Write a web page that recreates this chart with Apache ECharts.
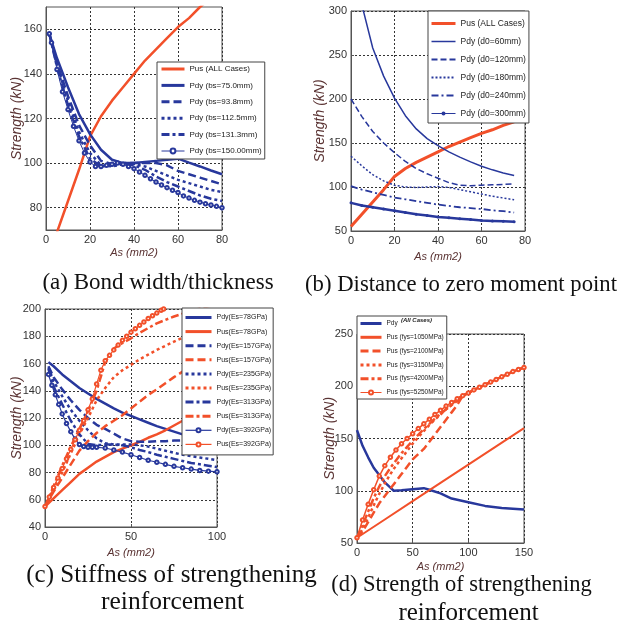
<!DOCTYPE html>
<html>
<head>
<meta charset="utf-8">
<script src="https://cdn.jsdelivr.net/npm/echarts@6/dist/echarts.min.js"></script>
<style>
html,body{margin:0;padding:0;background:#fff;}
#chart{width:632px;height:625px;}
</style>
</head>
<body>
<div id="chart"></div>
<script>
// Ultimate strength Pus, common to panels (a) and (b)
const pusAllX = [0,5,10,15,20,25,30,35,40,45,50,55,60,65,70,75];
const pusAllY = [55,69,83,97,112,121,128,134,140,146,151,156,161,165,170,174];

// (a) Bond width/thickness: debonding strength Pdy
const aPdyX   = [1.5,5,10,15,20,25,30,35,40,45,50,55,60,65,70,75,80];
const aPdy75  = [158,147,134,122,113,106,101.5,100,100,100.5,101,101.5,102,100.2,98.5,96.7,95];
const aPdy93  = [158,145,130,117,108,101,99.5,100,100,100,100,99,96.5,95,93.5,92,90.5];
const aPdy112 = [158,144,128,114,104.5,99,98.5,99.5,99.5,98.5,96.5,94.5,92.5,91,89.5,88,87];
const aPdy131 = [158,143,126,112,102,98.5,99,99.5,99,97,94,91.5,89.5,87.5,85.5,84,83];
const aPdy150X = [1.5,2.5,5,7.5,10,12.5,15,17.5,20,22.5,25,27.5,30,32.5,35,37.5,40,42.5,45,47.5,50,52.5,55,57.5,60,62.5,65,67.5,70,72.5,75,77.5,80];
const aPdy150  = [158,154,142,132,124,116.5,110,104.5,100.5,98.5,98.5,99,99.5,100,99.5,98.5,97.5,96,94.5,93,91.5,90.2,89,87.8,86.8,85.3,84.3,83.3,82.5,81.8,81.2,80.6,80];
const aYTicks = [80,100,120,140,160];

// (b) Distance to zero moment point
const bPdy60X = [5,10,15,20,25,30,35,40,45,50,55,60,65,70,75];
const bPdy60  = [307,258,226,201,181,166,155,147,140,134,128.5,123.5,119.5,116,113];
const bPdyX   = [0,5,10,15,20,25,30,35,40,45,50,55,60,65,70,75];
const bPdy120 = [200,180,163,150,139,129,121,115,110,105,102,101.5,102,102.5,103,103.5];
const bPdy180 = [135,124,114,107,102,100,99.5,100,100.5,99.5,97,94.5,92,89.5,87.5,85.5];
const bPdy240 = [101,97,94,91,88,86,84,82,80,78.5,77,76,75,73.5,72.5,71];
const bPdy300 = [82,79,77,75,73,71,69,67.5,66,65,64,63,62,61.5,61,60.5];

// (c) Stiffness of strengthening reinforcement
const cPdyX   = [2,5,10,15,20,25,30,35,40,45,50,55,60,65,70,75,80,85,90,95,100];
const cPdy78  = [161,158,152,147,142,138,134,130.5,127,124,121.5,119,116.5,114,112,110,108,106,104,103.5,104.5];
const cPdy157 = [158,150,141,133,126,120,115,112,108.5,105,103,102.5,102.5,103,103,103.5,103.5,103,102,101,99.5];
const cPdy235 = [157,147,136,126,118,111,105,101.5,100.5,100.5,100.5,100,99,97.5,96,94.5,93,92,91,90,89];
const cPdy313 = [156,143,130,118,108,101,100,100.5,100.5,100,98.5,96.5,95,93,91.5,90,88.5,87,86,85,84];
const cPdy392X = [2,4,6,8,10,12.5,15,17.5,20,22.5,25,27.5,30,35,40,45,50,55,60,65,70,75,80,85,90,95,100];
const cPdy392  = [152,144,137,130,123,116,110,104.5,100.5,99,98.5,98.5,98.5,98,96.5,95,93,91,89,87.5,86,84.5,83.5,82.5,81.5,81,80.5];
const cPusX   = [0,5,10,15,20,25,30,35,40,45,50,55,60,65,70,75,80,85,90,95,100];
const cPus78  = [55,61,67,73,79,83.5,88,91.5,95,97.5,100,102.5,105.5,108,111,114.5,118,121,124,127,130];
const cPus157 = [55,66,76,86,96,103,109,114,118,122,127,132,137,141,145.5,150,154,158,161.5,165,168];
const cPus235 = [55,68,80,94,108,120,133,142,150,155,159,163,166.5,170,173,176,179,182,185,187.5,190];
const cPus313 = [55,70,85,99,112,125,140,161,171,175,178.5,182.5,186,189.5,192,194.5,196.5,198.5,200.5,202,203.5];
const cPus392X = [0,2.5,5,7.5,10,12.5,15,17.5,20,22.5,25,27.5,30,32.5,35,37.5,40,42.5,45,47.5,50,52.5,55,57.5,60,62.5,65,67.5,69];
const cPus392  = [55,62,69,76,83,90,97,104,111,118,126,134,145,155,162,166,170,173.5,177,180,183,185.5,188,190.5,193,195,197,199,200];

// (d) Strength of strengthening reinforcement
const dPdyX = [0,5,10,15,20,25,30,33,40,50,60,65,75,85,100,115,130,150];
const dPdy  = [158,143,132,122,115,108,103,100,100.5,101.5,102.5,101,97.5,92.5,89,85.5,83.5,82];
const dPus1050X = [0,25,50,75,100,125,150];
const dPus1050  = [55,72.5,90,107.5,125,142.5,160];
const dPusX    = [0,5,10,15,20,25,30,35,40,45,50,55,60,65,70,75,80,85,90,95,100,105,110,115,120,125,130,135,140,145,150];
const dPus2100 = [55,61,70,79,88,95,102,109,116,123,130,135,140,147,154,161,168,175,182,191,193.5,196.5,199,201.5,204,206.5,209,211.5,214,216,218];
const dPus3150 = [55,63,74,86,97,107,116,124,131,138,145,151,157,163,168,173,178,182,188,191,193.5,196.5,199,201.5,204,206.5,209,211.5,214,216,218];
const dPus4200 = [55,67,80,93,104,114,122,129,136,142,148,153.5,159,164,169,173.5,178,182,186,191,193.5,196.5,199,201.5,204,206.5,209,211.5,214,216,218];
const dPus5250 = [55,72,87,101,114,124,132,139,145,150,154.5,159.5,164,168.5,173,177,181,184.5,188,191,193.5,196.5,199,201.5,204,206.5,209,211.5,214,216,218];

const BLUE = '#28389c';
const RED = '#f2502a';
const SANS = "'Liberation Sans', Arial, sans-serif";
const SERIF = "'Liberation Serif', 'Times New Roman', serif";
const DASH = [8, 4], DOT = [3, 3], DASHDOT = [8, 3, 3, 3];

function pairs(xs, ys) { return xs.map((x, i) => [x, ys[i]]); }

// line width used for each entry's legend sample
const legendWidth = {};

function line(name, gi, xs, ys, color, width, dash, marker, keyWidth) {
  const s = {
    name, type: 'line', xAxisIndex: gi, yAxisIndex: gi,
    data: pairs(xs, ys),
    lineStyle: { color, width, type: dash || 'solid' },
    itemStyle: { color },
    symbol: 'none', clip: true, silent: true
  };
  if (marker) {
    s.symbol = marker.symbol;
    s.symbolSize = marker.size;
    s.showSymbol = true;
    s.itemStyle = { color, borderWidth: 1 };
  }
  legendWidth[name] = { width: keyWidth || width, marker: !!marker };
  return s;
}

const grids = [
  { left: 46,  top: 7,   width: 176, height: 223 },
  { left: 351, top: 11,  width: 174, height: 220 },
  { left: 45,  top: 309, width: 172, height: 218 },
  { left: 357, top: 334, width: 167, height: 209 }
].map(g => Object.assign({ show: true, borderColor: '#555', borderWidth: 1, backgroundColor: '#fff' }, g));

const gridLine = { show: true, lineStyle: { type: [2, 2], color: '#333', width: 1 } };
const axisLineSty = { show: true, onZero: false, lineStyle: { color: '#555' } };
const tickSty = { show: true, inside: true, length: 3, lineStyle: { color: '#555' } };

function xAxis(gi, max, interval, gap) {
  return {
    type: 'value', gridIndex: gi, min: 0, max, interval,
    name: 'As (mm2)', nameLocation: 'middle', nameGap: gap,
    nameTextStyle: { fontSize: 11, fontStyle: 'italic', color: '#5b3434', fontFamily: SANS },
    axisLine: axisLineSty, axisTick: tickSty, splitLine: gridLine,
    axisLabel: { margin: 4, fontSize: 11, color: '#333', fontFamily: SANS }
  };
}
function yAxis(gi, min, max, interval, gap, custom) {
  const ax = {
    type: 'value', gridIndex: gi, min, max,
    name: 'Strength (kN)', nameLocation: 'middle', nameGap: gap, nameRotate: 90,
    nameMoveOverlap: false,
    nameTextStyle: { fontSize: 14, fontStyle: 'italic', color: '#5b3434', fontFamily: SANS },
    axisLine: axisLineSty, axisTick: Object.assign({}, tickSty), splitLine: gridLine,
    axisLabel: { margin: 4, fontSize: 11, color: '#333', fontFamily: SANS }
  };
  if (custom) {
    ax.axisTick.customValues = custom;
    ax.axisLabel.customValues = custom;
  } else {
    ax.interval = interval;
  }
  return ax;
}

function legend(left, top, names, o) {
  return {
    orient: 'vertical', left, top, selectedMode: false,
    itemWidth: o.iw, itemHeight: o.ih, itemGap: o.gap, padding: o.pad,
    backgroundColor: '#fff', borderColor: '#444', borderWidth: 1, borderRadius: 0,
    textStyle: { fontSize: o.fs, fontFamily: SANS, color: '#222' },
    data: names.map(n => {
      const k = legendWidth[n];
      const item = { name: n, lineStyle: { width: k.width } };
      if (!k.marker) item.itemStyle = { opacity: 0 };
      return item;
    })
  };
}

const series = [
  // (a)
  line('Pus (ALL Cases)', 0, pusAllX, pusAllY, RED, 2.5, null, null, 3),
  line('Pdy (bs=75.0mm)', 0, aPdyX, aPdy75, BLUE, 2.5, null, null, 3),
  line('Pdy (bs=93.8mm)', 0, aPdyX, aPdy93, BLUE, 2.5, DASH, null, 3),
  line('Pdy (bs=112.5mm)', 0, aPdyX, aPdy112, BLUE, 2.5, DOT, null, 3),
  line('Pdy (bs=131.3mm)', 0, aPdyX, aPdy131, BLUE, 2.5, DASHDOT, null, 3),
  line('Pdy (bs=150.00mm)', 0, aPdy150X, aPdy150, BLUE, 1, null, { symbol: 'emptyCircle', size: 3.5 }),
  // (b)
  line('Pus (ALL Cases)', 1, pusAllX, pusAllY, RED, 3, null, null, 3),
  line('Pdy (d0=60mm)', 1, bPdy60X, bPdy60, BLUE, 1.5),
  line('Pdy (d0=120mm)', 1, bPdyX, bPdy120, BLUE, 1.5, [6, 3], null, 2),
  line('Pdy (d0=180mm)', 1, bPdyX, bPdy180, BLUE, 1.5, [2, 2], null, 2),
  line('Pdy (d0=240mm)', 1, bPdyX, bPdy240, BLUE, 1.8, [7, 3, 2, 3], null, 2),
  line('Pdy (d0=300mm)', 1, bPdyX, bPdy300, BLUE, 2.5, null, { symbol: 'circle', size: 3 }, 1),
  // (c)
  line('Pdy(Es=78GPa)', 2, cPdyX, cPdy78, BLUE, 2.5, null, null, 3),
  line('Pus(Es=78GPa)', 2, cPusX, cPus78, RED, 2.5, null, null, 3),
  line('Pdy(Es=157GPa)', 2, cPdyX, cPdy157, BLUE, 2.5, DASH, null, 3),
  line('Pus(Es=157GPa)', 2, cPusX, cPus157, RED, 2.5, DASH, null, 3),
  line('Pdy(Es=235GPa)', 2, cPdyX, cPdy235, BLUE, 2.5, DOT, null, 3),
  line('Pus(Es=235GPa)', 2, cPusX, cPus235, RED, 2.5, DOT, null, 3),
  line('Pdy(Es=313GPa)', 2, cPdyX, cPdy313, BLUE, 2.5, DASHDOT, null, 3),
  line('Pus(Es=313GPa)', 2, cPusX, cPus313, RED, 2.5, DASHDOT, null, 3),
  line('Pdy(Es=392GPa)', 2, cPdy392X, cPdy392, BLUE, 1.2, null, { symbol: 'emptyCircle', size: 3.5 }),
  line('Pus(Es=392GPa)', 2, cPus392X, cPus392, RED, 1.2, null, { symbol: 'emptyCircle', size: 3.5 }),
  // (d)
  line('Pdy', 3, dPdyX, dPdy, BLUE, 2.5, null, null, 3),
  line('Pus (fys=1050MPa)', 3, dPus1050X, dPus1050, RED, 2, null, null, 3),
  line('Pus (fys=2100MPa)', 3, dPusX, dPus2100, RED, 2.5, DASH, null, 3),
  line('Pus (fys=3150MPa)', 3, dPusX, dPus3150, RED, 2.5, DOT, null, 3),
  line('Pus (fys=4200MPa)', 3, dPusX, dPus4200, RED, 2.5, DASHDOT, null, 3),
  line('Pus (fys=5250MPa)', 3, dPusX, dPus5250, RED, 1.5, null, { symbol: 'emptyCircle', size: 3.5 }, 1)
];

const legendA = ['Pus (ALL Cases)','Pdy (bs=75.0mm)','Pdy (bs=93.8mm)','Pdy (bs=112.5mm)','Pdy (bs=131.3mm)','Pdy (bs=150.00mm)'];
const legendB = ['Pus (ALL Cases)','Pdy (d0=60mm)','Pdy (d0=120mm)','Pdy (d0=180mm)','Pdy (d0=240mm)','Pdy (d0=300mm)'];
const legendC = ['Pdy(Es=78GPa)','Pus(Es=78GPa)','Pdy(Es=157GPa)','Pus(Es=157GPa)','Pdy(Es=235GPa)','Pus(Es=235GPa)','Pdy(Es=313GPa)','Pus(Es=313GPa)','Pdy(Es=392GPa)','Pus(Es=392GPa)'];
const legendD = ['Pdy','Pus (fys=1050MPa)','Pus (fys=2100MPa)','Pus (fys=3150MPa)','Pus (fys=4200MPa)','Pus (fys=5250MPa)'];

function caption(text, x, y, size) {
  return { type: 'text', x, y, silent: true,
    style: { text, fill: '#111', font: size + 'px ' + SERIF, align: 'center', verticalAlign: 'middle' } };
}

const option = {
  animation: false,
  backgroundColor: '#fff',
  grid: grids,
  xAxis: [ xAxis(0, 80, 20, 17), xAxis(1, 80, 20, 20), xAxis(2, 100, 50, 20), xAxis(3, 150, 50, 18) ],
  yAxis: [ yAxis(0, 70, 170, 20, 22, aYTicks), yAxis(1, 50, 300, 50, 24), yAxis(2, 40, 200, 20, 20.5), yAxis(3, 50, 250, 50, 20) ],
  legend: [
    legend(157, 62, legendA, { iw: 23, ih: 6, gap: 8.4, pad: [3, 3, 4, 3], fs: 8 }),
    legend(428, 11, legendB, { iw: 24, ih: 5, gap: 9, pad: [8, 3, 5, 2], fs: 8.5 }),
    legend(182, 308, legendC, { iw: 26, ih: 5, gap: 7.1, pad: [6, 2, 7, 2], fs: 7 }),
    legend(357, 316, legendD, { iw: 21, ih: 5, gap: 6.8, pad: [4, 3, 3, 2], fs: 6.5 })
  ],
  graphic: [
    caption('(a) Bond width/thickness', 158, 283, 23),
    caption('(b) Distance to zero moment point', 461, 285, 22.7),
    caption('(c) Stiffness of strengthening', 171.5, 575, 25),
    caption('reinforcement', 172.5, 602, 25.5),
    caption('(d) Strength of strengthening', 461.5, 585, 22.5),
    caption('reinforcement', 468.5, 613, 25),
    { type: 'text', left: 401, top: 317, silent: true, z: 100,
      style: { text: '(All Cases)', fill: '#222', font: 'italic bold 6px ' + SANS } }
  ],
  series
};

const chart = echarts.init(document.getElementById('chart'), null, { renderer: 'canvas' });
chart.setOption(option);
</script>
</body>
</html>
